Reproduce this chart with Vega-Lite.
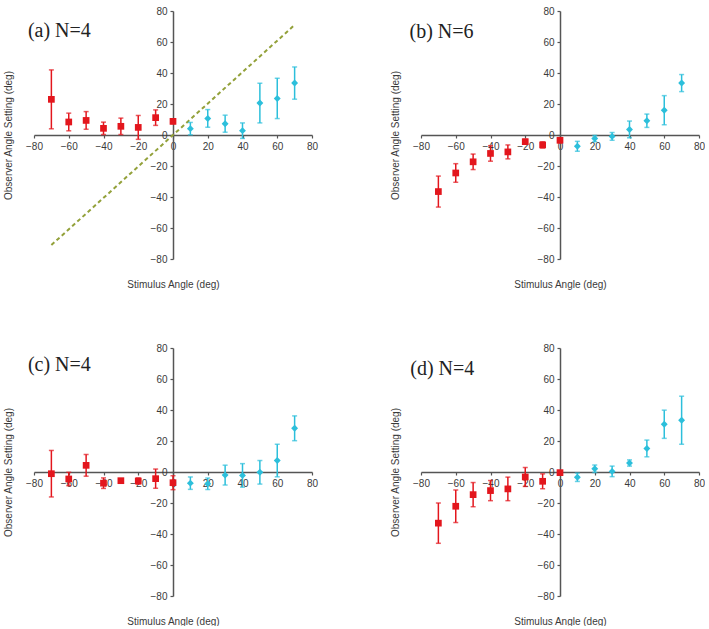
{
  "$schema": "https://vega.github.io/schema/vega-lite/v6.json",
  "background": "white",
  "padding": {"left": 3, "top": 6, "right": 0, "bottom": 0},
  "bounds": "flush",
  "columns": 2,
  "spacing": {"row": 89, "column": 109},
  "datasets": {
    "a": [
      {"angle": -70, "setting": 23, "err": 19, "side": "neg"},
      {"angle": -60, "setting": 8.4, "err": 5.7, "side": "neg"},
      {"angle": -50, "setting": 9.4, "err": 5.7, "side": "neg"},
      {"angle": -40, "setting": 4.3, "err": 4, "side": "neg"},
      {"angle": -30, "setting": 5.6, "err": 5.3, "side": "neg"},
      {"angle": -20, "setting": 4.9, "err": 7.7, "side": "neg"},
      {"angle": -10, "setting": 11.2, "err": 5, "side": "neg"},
      {"angle": 0, "setting": 8.8, "err": 1.5, "side": "neg"},
      {"angle": 10, "setting": 4.1, "err": 4, "side": "pos"},
      {"angle": 20, "setting": 10.7, "err": 5.7, "side": "pos"},
      {"angle": 30, "setting": 7.3, "err": 5.5, "side": "pos"},
      {"angle": 40, "setting": 2.8, "err": 5, "side": "pos"},
      {"angle": 50, "setting": 20.6, "err": 12.8, "side": "pos"},
      {"angle": 60, "setting": 23.6, "err": 13, "side": "pos"},
      {"angle": 70, "setting": 33.5, "err": 10.4, "side": "pos"}
    ],
    "b": [
      {"angle": -70, "setting": -36.5, "err": 10, "side": "neg"},
      {"angle": -60, "setting": -24.5, "err": 6, "side": "neg"},
      {"angle": -50, "setting": -17.3, "err": 5, "side": "neg"},
      {"angle": -40, "setting": -11.9, "err": 5, "side": "neg"},
      {"angle": -30, "setting": -10.9, "err": 4.5, "side": "neg"},
      {"angle": -20, "setting": -4.3, "err": 1.5, "side": "neg"},
      {"angle": -10, "setting": -6.4, "err": 2, "side": "neg"},
      {"angle": 0, "setting": -3.4, "err": 1.5, "side": "neg"},
      {"angle": 10, "setting": -7.3, "err": 3.2, "side": "pos"},
      {"angle": 20, "setting": -2.3, "err": 2, "side": "pos"},
      {"angle": 30, "setting": -0.9, "err": 2.5, "side": "pos"},
      {"angle": 40, "setting": 3.6, "err": 5.4, "side": "pos"},
      {"angle": 50, "setting": 9.2, "err": 4.3, "side": "pos"},
      {"angle": 60, "setting": 16, "err": 9.4, "side": "pos"},
      {"angle": 70, "setting": 33.5, "err": 5.5, "side": "pos"}
    ],
    "c": [
      {"angle": -70, "setting": -1.1, "err": 15, "side": "neg"},
      {"angle": -60, "setting": -4.5, "err": 4.3, "side": "neg"},
      {"angle": -50, "setting": 4.3, "err": 7, "side": "neg"},
      {"angle": -40, "setting": -7.2, "err": 3.4, "side": "neg"},
      {"angle": -30, "setting": -5.6, "err": 1, "side": "neg"},
      {"angle": -20, "setting": -5.8, "err": 2, "side": "neg"},
      {"angle": -10, "setting": -4.3, "err": 6.2, "side": "neg"},
      {"angle": 0, "setting": -6.9, "err": 4.5, "side": "neg"},
      {"angle": 10, "setting": -7.2, "err": 4, "side": "pos"},
      {"angle": 20, "setting": -7.6, "err": 3.7, "side": "pos"},
      {"angle": 30, "setting": -2, "err": 6.4, "side": "pos"},
      {"angle": 40, "setting": -2.2, "err": 7.6, "side": "pos"},
      {"angle": 50, "setting": -0.2, "err": 7.6, "side": "pos"},
      {"angle": 60, "setting": 7.4, "err": 10.5, "side": "pos"},
      {"angle": 70, "setting": 28.2, "err": 8, "side": "pos"}
    ],
    "d": [
      {"angle": -70, "setting": -33, "err": 13, "side": "neg"},
      {"angle": -60, "setting": -22.1, "err": 10.5, "side": "neg"},
      {"angle": -50, "setting": -14.6, "err": 7.8, "side": "neg"},
      {"angle": -40, "setting": -12, "err": 6.5, "side": "neg"},
      {"angle": -30, "setting": -10.9, "err": 7.6, "side": "neg"},
      {"angle": -20, "setting": -3.2, "err": 6.1, "side": "neg"},
      {"angle": -10, "setting": -6, "err": 4.8, "side": "neg"},
      {"angle": 0, "setting": -0.4, "err": 1, "side": "neg"},
      {"angle": 10, "setting": -3.4, "err": 2.7, "side": "pos"},
      {"angle": 20, "setting": 2.1, "err": 2.4, "side": "pos"},
      {"angle": 30, "setting": 0.4, "err": 3.4, "side": "pos"},
      {"angle": 40, "setting": 5.8, "err": 2, "side": "pos"},
      {"angle": 50, "setting": 15.2, "err": 5.4, "side": "pos"},
      {"angle": 60, "setting": 30.8, "err": 9.1, "side": "pos"},
      {"angle": 70, "setting": 33.4, "err": 15.5, "side": "pos"}
    ],
    "identity": [
      {"angle": -70, "setting": -71},
      {"angle": 70, "setting": 71}
    ],
    "one": [{}]
  },
  "concat": [
    {
      "width": 278,
      "height": 248,
      "layer": [
        {
          "data": {"name": "identity"},
          "mark": {"type": "line", "color": "#93a13a", "strokeWidth": 2, "strokeDash": [4, 3]},
          "encoding": {
            "x": {"field": "angle", "type": "quantitative", "scale": {"domain": [-80, 80]}, "axis": {"title": "Stimulus Angle (deg)"}},
            "y": {"field": "setting", "type": "quantitative", "scale": {"domain": [-80, 80]}, "axis": {"title": "Observer Angle Setting (deg)"}}
          }
        },
        {
          "data": {"name": "a"},
          "mark": {"type": "errorbar", "ticks": {"size": 5}, "thickness": 1.5},
          "encoding": {
            "x": {"field": "angle", "type": "quantitative", "title": "Stimulus Angle (deg)"},
            "y": {"field": "setting", "type": "quantitative", "title": "Observer Angle Setting (deg)"},
            "yError": {"field": "err"},
            "color": {"field": "side", "type": "nominal", "scale": {"domain": ["neg", "pos"], "range": ["#e3161d", "#2cbfdb"]}, "legend": null}
          }
        },
        {
          "data": {"name": "a"},
          "mark": {"type": "point", "filled": true, "opacity": 1},
          "encoding": {
            "x": {"field": "angle", "type": "quantitative", "title": "Stimulus Angle (deg)"},
            "y": {"field": "setting", "type": "quantitative", "title": "Observer Angle Setting (deg)"},
            "shape": {"field": "side", "type": "nominal", "scale": {"domain": ["neg", "pos"], "range": ["square", "diamond"]}, "legend": null},
            "size": {"field": "side", "type": "nominal", "scale": {"domain": ["neg", "pos"], "range": [45, 48]}, "legend": null},
            "color": {"field": "side", "type": "nominal", "legend": null}
          }
        },
        {
          "data": {"name": "one"},
          "mark": {"type": "text", "align": "left", "baseline": "alphabetic", "font": "Liberation Serif", "fontSize": 20, "color": "#222222"},
          "encoding": {"x": {"datum": -83.5}, "y": {"datum": 63.4}, "text": {"datum": "(a) N=4"}}
        }
      ]
    },
    {
      "width": 278,
      "height": 248,
      "layer": [
        {
          "data": {"name": "b"},
          "mark": {"type": "errorbar", "ticks": {"size": 5}, "thickness": 1.5},
          "encoding": {
            "x": {"field": "angle", "type": "quantitative", "scale": {"domain": [-80, 80]}, "title": "Stimulus Angle (deg)"},
            "y": {"field": "setting", "type": "quantitative", "scale": {"domain": [-80, 80]}, "title": "Observer Angle Setting (deg)"},
            "yError": {"field": "err"},
            "color": {"field": "side", "type": "nominal", "scale": {"domain": ["neg", "pos"], "range": ["#e3161d", "#2cbfdb"]}, "legend": null}
          }
        },
        {
          "data": {"name": "b"},
          "mark": {"type": "point", "filled": true, "opacity": 1},
          "encoding": {
            "x": {"field": "angle", "type": "quantitative", "title": "Stimulus Angle (deg)"},
            "y": {"field": "setting", "type": "quantitative", "title": "Observer Angle Setting (deg)"},
            "shape": {"field": "side", "type": "nominal", "scale": {"domain": ["neg", "pos"], "range": ["square", "diamond"]}, "legend": null},
            "size": {"field": "side", "type": "nominal", "scale": {"domain": ["neg", "pos"], "range": [45, 48]}, "legend": null},
            "color": {"field": "side", "type": "nominal", "legend": null}
          }
        },
        {
          "data": {"name": "one"},
          "mark": {"type": "text", "align": "left", "baseline": "alphabetic", "font": "Liberation Serif", "fontSize": 20, "color": "#222222"},
          "encoding": {"x": {"datum": -86.6}, "y": {"datum": 62.8}, "text": {"datum": "(b) N=6"}}
        }
      ]
    },
    {
      "width": 278,
      "height": 248,
      "layer": [
        {
          "data": {"name": "c"},
          "mark": {"type": "errorbar", "ticks": {"size": 5}, "thickness": 1.5},
          "encoding": {
            "x": {"field": "angle", "type": "quantitative", "scale": {"domain": [-80, 80]}, "title": "Stimulus Angle (deg)"},
            "y": {"field": "setting", "type": "quantitative", "scale": {"domain": [-80, 80]}, "title": "Observer Angle Setting (deg)"},
            "yError": {"field": "err"},
            "color": {"field": "side", "type": "nominal", "scale": {"domain": ["neg", "pos"], "range": ["#e3161d", "#2cbfdb"]}, "legend": null}
          }
        },
        {
          "data": {"name": "c"},
          "mark": {"type": "point", "filled": true, "opacity": 1},
          "encoding": {
            "x": {"field": "angle", "type": "quantitative", "title": "Stimulus Angle (deg)"},
            "y": {"field": "setting", "type": "quantitative", "title": "Observer Angle Setting (deg)"},
            "shape": {"field": "side", "type": "nominal", "scale": {"domain": ["neg", "pos"], "range": ["square", "diamond"]}, "legend": null},
            "size": {"field": "side", "type": "nominal", "scale": {"domain": ["neg", "pos"], "range": [45, 48]}, "legend": null},
            "color": {"field": "side", "type": "nominal", "legend": null}
          }
        },
        {
          "data": {"name": "one"},
          "mark": {"type": "text", "align": "left", "baseline": "alphabetic", "font": "Liberation Serif", "fontSize": 20, "color": "#222222"},
          "encoding": {"x": {"datum": -83.5}, "y": {"datum": 65}, "text": {"datum": "(c) N=4"}}
        }
      ]
    },
    {
      "width": 278,
      "height": 248,
      "layer": [
        {
          "data": {"name": "d"},
          "mark": {"type": "errorbar", "ticks": {"size": 5}, "thickness": 1.5},
          "encoding": {
            "x": {"field": "angle", "type": "quantitative", "scale": {"domain": [-80, 80]}, "title": "Stimulus Angle (deg)"},
            "y": {"field": "setting", "type": "quantitative", "scale": {"domain": [-80, 80]}, "title": "Observer Angle Setting (deg)"},
            "yError": {"field": "err"},
            "color": {"field": "side", "type": "nominal", "scale": {"domain": ["neg", "pos"], "range": ["#e3161d", "#2cbfdb"]}, "legend": null}
          }
        },
        {
          "data": {"name": "d"},
          "mark": {"type": "point", "filled": true, "opacity": 1},
          "encoding": {
            "x": {"field": "angle", "type": "quantitative", "title": "Stimulus Angle (deg)"},
            "y": {"field": "setting", "type": "quantitative", "title": "Observer Angle Setting (deg)"},
            "shape": {"field": "side", "type": "nominal", "scale": {"domain": ["neg", "pos"], "range": ["square", "diamond"]}, "legend": null},
            "size": {"field": "side", "type": "nominal", "scale": {"domain": ["neg", "pos"], "range": [45, 48]}, "legend": null},
            "color": {"field": "side", "type": "nominal", "legend": null}
          }
        },
        {
          "data": {"name": "one"},
          "mark": {"type": "text", "align": "left", "baseline": "alphabetic", "font": "Liberation Serif", "fontSize": 20, "color": "#222222"},
          "encoding": {"x": {"datum": -86.2}, "y": {"datum": 62.7}, "text": {"datum": "(d) N=4"}}
        }
      ]
    }
  ],
  "config": {
    "view": {"stroke": null},
    "font": "Liberation Sans",
    "axis": {
      "grid": false,
      "values": [-80, -60, -40, -20, 0, 20, 40, 60, 80],
      "domainColor": "#555555",
      "domainWidth": 1.5,
      "tickColor": "#555555",
      "tickWidth": 1.2,
      "tickSize": 3,
      "labelFont": "Liberation Sans",
      "labelFontSize": 10,
      "labelColor": "#3a3a3a",
      "labelOverlap": false,
      "labelFlush": false,
      "labelPadding": 3,
      "titleFont": "Liberation Sans",
      "titleFontSize": 10,
      "titleFontWeight": "normal",
      "titleColor": "#3a3a3a"
    },
    "axisX": {
      "orient": "bottom",
      "offset": -124,
      "titleY": 149,
      "titleBaseline": "middle"
    },
    "axisY": {
      "orient": "left",
      "offset": -139,
      "titleX": -165,
      "titleY": 124,
      "titleAngle": -90,
      "titleAlign": "center",
      "titleBaseline": "middle"
    }
  }
}
